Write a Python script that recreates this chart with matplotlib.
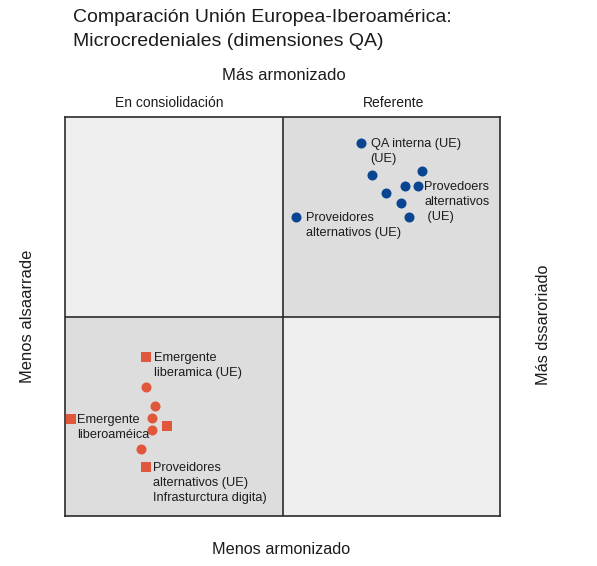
import matplotlib
matplotlib.use("Agg")
import matplotlib.pyplot as plt
from matplotlib.patches import Rectangle

plt.rcParams["font.family"] = ["Liberation Sans", "DejaVu Sans"]

# --- COLORS ---
TEXT_COLOR = "#1c1c1c"
EDGE_COLOR = "#2b2b2b"
LIGHT_QUAD = "#efefef"
DARK_QUAD = "#dddddd"
BLUE = "#0a4592"
ORANGE = "#e0573b"

# --- DATA (0-10 scale, midpoint 5) ---
ue_x = [6.80, 7.06, 8.21, 7.82, 8.11, 7.38, 7.72, 7.91, 5.31]
ue_y = [9.35, 8.55, 8.65, 8.27, 8.27, 8.10, 7.84, 7.49, 7.49]
ue_labels = ["QA interna (UE)\n(UE)", "", "", "", "Provedoers\nalternativos\n (UE)",
             "", "", "", "Proveidores\nalternativos (UE)"]

ib_circ_x = [1.86, 2.07, 2.00, 2.00, 1.75]
ib_circ_y = [3.23, 2.76, 2.46, 2.16, 1.68]

ib_sq_x = [1.86, 2.34, 1.86, 0.14]
ib_sq_y = [3.98, 2.26, 1.23, 2.43]
ib_sq_labels = ["Emergente\nliberamica (UE)", "",
                "Proveidores\nalternativos (UE)\nInfrasturctura digita)",
                "Emergente\nliberoaméica"]

# label offsets in points (text top-left relative to the marker)
offsets = {
    "QA interna (UE)\n(UE)": (7, 3.6),
    "Provedoers\nalternativos\n (UE)": (4.5, 3.6),
    "Proveidores\nalternativos (UE)": (7, 3.6),
    "Emergente\nliberamica (UE)": (6, 3.6),
    "Proveidores\nalternativos (UE)\nInfrasturctura digita)": (5, 3.6),
    "Emergente\nliberoaméica": (4.5, 3.6),
}


def label_points(ax, xs, ys, labels):
    for x, y, lab in zip(xs, ys, labels):
        if not lab:
            continue
        ax.annotate(lab, xy=(x, y), xytext=offsets[lab], textcoords="offset points",
                    ha="left", va="top", fontsize=9.2, color=TEXT_COLOR,
                    linespacing=1.35, zorder=5, annotation_clip=False)


fig = plt.figure(figsize=(5.97, 5.66), dpi=100, facecolor="white")
ax = fig.add_axes([65 / 597, 1 - 516 / 566, 435 / 597, 399 / 566])
ax.set_xlim(0, 10)
ax.set_ylim(0, 10)

# quadrants
ax.add_patch(Rectangle((0, 5), 5, 5, facecolor=LIGHT_QUAD, edgecolor="none", zorder=0))
ax.add_patch(Rectangle((5, 5), 5, 5, facecolor=DARK_QUAD, edgecolor="none", zorder=0))
ax.add_patch(Rectangle((0, 0), 5, 5, facecolor=DARK_QUAD, edgecolor="none", zorder=0))
ax.add_patch(Rectangle((5, 0), 5, 5, facecolor=LIGHT_QUAD, edgecolor="none", zorder=0))
ax.axvline(5, color=EDGE_COLOR, linewidth=1.2, zorder=1)
ax.axhline(5, color=EDGE_COLOR, linewidth=1.2, zorder=1)

for sp in ax.spines.values():
    sp.set_color(EDGE_COLOR)
    sp.set_linewidth(1.2)
ax.set_xticks([])
ax.set_yticks([])

# points
ax.scatter(ue_x, ue_y, s=52, color=BLUE, marker="o", linewidths=0, zorder=3)
ax.scatter(ib_circ_x, ib_circ_y, s=52, color=ORANGE, marker="o", linewidths=0, zorder=3)
ax.scatter(ib_sq_x, ib_sq_y, s=52, color=ORANGE, marker="s", linewidths=0, zorder=3,
           clip_on=False)

label_points(ax, ue_x, ue_y, ue_labels)
label_points(ax, ib_sq_x, ib_sq_y, ib_sq_labels)

# quadrant headers
ax.text(0.24, 1.035, "En consiolidación", transform=ax.transAxes, ha="center",
        va="center", fontsize=10, color=TEXT_COLOR)
ax.text(0.755, 1.035, "Referente", transform=ax.transAxes, ha="center",
        va="center", fontsize=10, color=TEXT_COLOR)

# axis labels
ax.text(0.503, 1.105, "Más armonizado", transform=ax.transAxes, ha="center",
        va="center", fontsize=12, color=TEXT_COLOR)
ax.text(0.496, -0.085, "Menos armonizado", transform=ax.transAxes, ha="center",
        va="center", fontsize=11.7, color=TEXT_COLOR)
ax.text(-0.087, 0.5, "Menos alsaarrade", transform=ax.transAxes, ha="center",
        va="center", rotation=90, fontsize=11.9, color=TEXT_COLOR)
ax.text(1.1, 0.48, "Más dssaroriado", transform=ax.transAxes, ha="center",
        va="center", rotation=90, fontsize=11.7, color=TEXT_COLOR)

# title
fig.text(73 / 597, 1 - 9 / 566,
         "Comparación Unión Europea-Iberoamérica:\nMicrocredeniales (dimensiones QA)",
         ha="left", va="top", fontsize=14, color=TEXT_COLOR, linespacing=1.5)

fig.savefig("out.png", dpi=100, facecolor="white")
